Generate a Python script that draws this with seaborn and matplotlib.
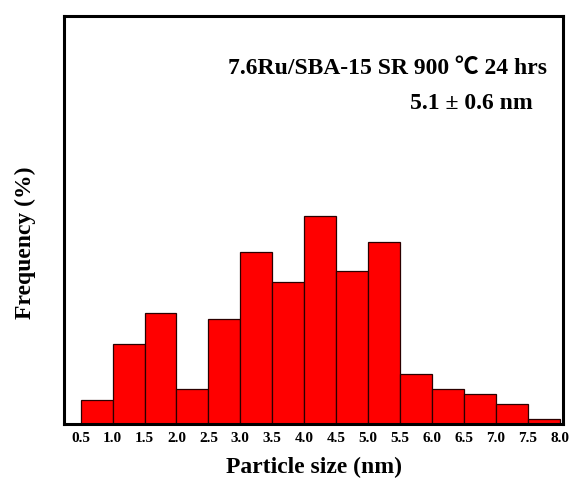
import matplotlib
matplotlib.use("Agg")
import matplotlib.pyplot as plt
import seaborn as sns
import numpy as np
import pandas as pd

# Particle size bins (nm) and frequency (%) per bin
bin_edges = [0.5, 1.0, 1.5, 2.0, 2.5, 3.0, 3.5, 4.0, 4.5, 5.0, 5.5, 6.0, 6.5, 7.0, 7.5, 8.0]
bin_centers = [0.75, 1.25, 1.75, 2.25, 2.75, 3.25, 3.75, 4.25, 4.75, 5.25, 5.75, 6.25, 6.75, 7.25, 7.75]
frequency = [1.8, 5.9, 8.2, 2.6, 7.8, 12.7, 10.5, 15.4, 11.3, 13.5, 3.7, 2.6, 2.2, 1.5, 0.35]
tick_labels = ["0.5", "1.0", "1.5", "2.0", "2.5", "3.0", "3.5", "4.0",
               "4.5", "5.0", "5.5", "6.0", "6.5", "7.0", "7.5", "8.0"]

sample_label = "7.6Ru/SBA-15 SR 900 \u2103 24 hrs"
size_label = "5.1 \u00b1 0.6 nm"

df = pd.DataFrame({"size": bin_centers, "freq": frequency})

sns.set_theme(style="white")
plt.rcParams["font.family"] = ["Liberation Serif", "Noto Sans CJK SC", "DejaVu Serif"]
plt.rcParams["font.weight"] = "bold"
plt.rcParams["text.color"] = "black"
plt.rcParams["axes.labelcolor"] = "black"
plt.rcParams["xtick.color"] = "black"

fig = plt.figure(figsize=(5.72, 4.88), dpi=100)
ax = fig.add_axes([0.1119, 0.1311, 0.8724, 0.8361])

sns.histplot(data=df, x="size", weights="freq", bins=bin_edges, ax=ax,
             color="#ff0000", alpha=1.0, edgecolor="#2a0000", linewidth=0.9)

ax.set_xlim(0.24, 8.05)
ax.set_ylim(0, 30.2)
ax.set_xticks(bin_edges)
ax.set_xticklabels(tick_labels, fontsize=11, fontweight="bold")
ax.set_yticks([])
ax.tick_params(axis="x", length=0, pad=6)

for side in ax.spines.values():
    side.set_visible(True)
    side.set_color("black")
    side.set_linewidth(2.2)

ax.set_xlabel("Particle size (nm)", fontsize=17, fontweight="bold", labelpad=8)
ax.set_ylabel("Frequency (%)", fontsize=17, fontweight="bold")
ax.yaxis.set_label_coords(-0.056, 0.444)

ax.text(0.968, 0.858, sample_label, transform=ax.transAxes, ha="right", va="baseline",
        fontsize=17, fontweight="bold")
ax.text(0.940, 0.772, size_label, transform=ax.transAxes, ha="right", va="baseline",
        fontsize=17, fontweight="bold")

fig.savefig("out.png", dpi=100)
